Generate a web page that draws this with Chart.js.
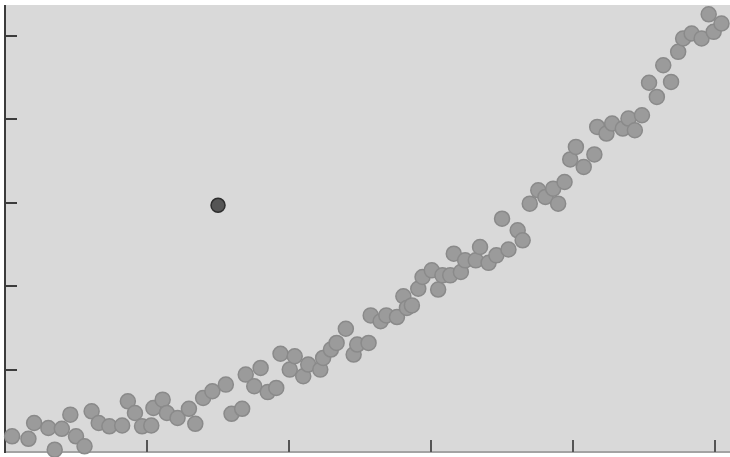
<!DOCTYPE html>
<html>
<head>
<meta charset="utf-8">
<title>Scatter</title>
<script src="https://cdn.jsdelivr.net/npm/chart.js@4.4.1/dist/chart.umd.min.js"></script>
<style>
    html, body {
        margin: 0;
        padding: 0;
        background: #ffffff;
    }
    #chartWrap {
        position: relative;
        width: 730px;
        height: 457px;
    }
</style>
</head>
<body>
<div id="chartWrap">
    <canvas id="scatterChart"></canvas>
</div>
<script>
    // values
    const xValues = [
        1.0, 3.3, 4.1, 6.1, 7.0, 8.0, 9.2, 10.0, 11.2, 12.2,
        13.2, 14.7, 16.5, 17.3, 18.3, 19.3, 20.6, 20.9, 22.2, 22.8,
        24.3, 25.9, 26.8, 27.9, 29.2, 31.1, 31.9, 33.4, 33.9, 35.1,
        36.0, 37.0, 38.2, 38.8, 40.1, 40.8, 42.0, 42.7, 44.4, 44.8,
        45.9, 46.7, 48.0, 49.1, 49.6, 51.2, 51.5, 52.9, 53.7, 55.2,
        56.1, 56.6, 57.3, 58.2, 58.8, 60.1, 61.0, 61.6, 62.7, 63.2,
        64.2, 64.8, 66.3, 66.9, 68.1, 69.2, 70.0, 70.9, 72.2, 72.9,
        73.9, 75.1, 76.1, 77.2, 77.9, 78.8, 79.6, 80.4, 81.5, 83.0,
        83.4, 84.7, 85.5, 87.0, 87.8, 88.7, 89.7, 90.7, 91.8, 92.7,
        93.8, 94.8, 95.5, 96.7, 98.1, 99.1, 99.8, 100.9
    ];
    const yValues = [
        0.20, 0.17, 0.36, 0.30, 0.04, 0.29, 0.46, 0.20, 0.08, 0.50,
        0.36, 0.32, 0.33, 0.62, 0.48, 0.32, 0.33, 0.54, 0.64, 0.48,
        0.42, 0.53, 0.35, 0.66, 0.74, 0.82, 0.47, 0.53, 0.94, 0.80,
        1.02, 0.73, 0.78, 1.19, 1.00, 1.16, 0.92, 1.06, 1.00, 1.14,
        1.24, 1.32, 1.49, 1.18, 1.30, 1.32, 1.65, 1.58, 1.65, 1.63,
        1.88, 1.74, 1.77, 1.97, 2.11, 2.19, 1.96, 2.13, 2.13, 2.39,
        2.17, 2.31, 2.31, 2.47, 2.28, 2.37, 2.81, 2.44, 2.67, 2.55,
        2.99, 3.15, 3.07, 3.17, 2.99, 3.25, 3.52, 3.67, 3.43, 3.58,
        3.91, 3.83, 3.95, 3.89, 4.01, 3.87, 4.05, 4.44, 4.27, 4.65,
        4.45, 4.81, 4.97, 5.03, 4.97, 5.26, 5.05, 5.15
    ];
    const outlierX = [30.0];
    const outlierY = [2.97];

    const xTicks = [20, 40, 60, 80, 100];
    const yTicks = [1, 2, 3, 4, 5];

    function toPoints(xs, ys) {
        return xs.map(function (x, i) {
            return { x: x, y: ys[i] };
        });
    }

    // gray panel, axis lines and inward ticks
    const framePlugin = {
        id: "frame",
        beforeDatasetsDraw: function (chart) {
            const ctx = chart.ctx;
            const area = chart.chartArea;
            const xScale = chart.scales.x;
            const yScale = chart.scales.y;

            ctx.save();
            ctx.fillStyle = "#d9d9d9";
            ctx.fillRect(area.left, area.top, area.right - area.left, area.bottom - area.top);

            ctx.lineWidth = 2;
            ctx.strokeStyle = "#a3a3a3";
            ctx.beginPath();
            ctx.moveTo(area.left, area.bottom - 1);
            ctx.lineTo(area.right, area.bottom - 1);
            ctx.stroke();

            ctx.strokeStyle = "#3c3c3c";
            ctx.beginPath();
            ctx.moveTo(area.left, area.top);
            ctx.lineTo(area.left, area.bottom);
            ctx.stroke();

            yTicks.forEach(function (t) {
                const py = Math.round(yScale.getPixelForValue(t));
                ctx.beginPath();
                ctx.moveTo(area.left, py);
                ctx.lineTo(area.left + 12, py);
                ctx.stroke();
            });

            ctx.strokeStyle = "#555555";
            xTicks.forEach(function (t) {
                const px = Math.round(xScale.getPixelForValue(t));
                ctx.beginPath();
                ctx.moveTo(px, area.bottom - 1);
                ctx.lineTo(px, area.bottom - 13);
                ctx.stroke();
            });
            ctx.restore();
        },
    };

    const ctx = document.getElementById("scatterChart").getContext("2d");
    new Chart(ctx, {
        type: "scatter",
        data: {
            datasets: [
                {
                    label: "points",
                    data: toPoints(xValues, yValues),
                    backgroundColor: "#9b9b9b",
                    borderColor: "#8a8a8a",
                    borderWidth: 1.5,
                    pointRadius: 7.5,
                    pointHoverRadius: 7.5,
                    clip: false,
                },
                {
                    label: "outlier",
                    data: toPoints(outlierX, outlierY),
                    backgroundColor: "#555555",
                    borderColor: "#2e2e2e",
                    borderWidth: 1.5,
                    pointRadius: 7,
                    pointHoverRadius: 7,
                    clip: false,
                },
            ],
        },
        options: {
            responsive: true,
            maintainAspectRatio: false,
            animation: false,
            layout: {
                autoPadding: false,
                padding: {
                    top: 5,
                    right: 0,
                    bottom: 4,
                    left: 5,
                },
            },
            plugins: {
                legend: { display: false },
                tooltip: { enabled: false },
            },
            scales: {
                x: {
                    type: "linear",
                    min: 0,
                    max: 102.1,
                    display: false,
                },
                y: {
                    type: "linear",
                    min: 0,
                    max: 5.372,
                    display: false,
                },
            },
        },
        plugins: [framePlugin],
    });
</script>
</body>
</html>
